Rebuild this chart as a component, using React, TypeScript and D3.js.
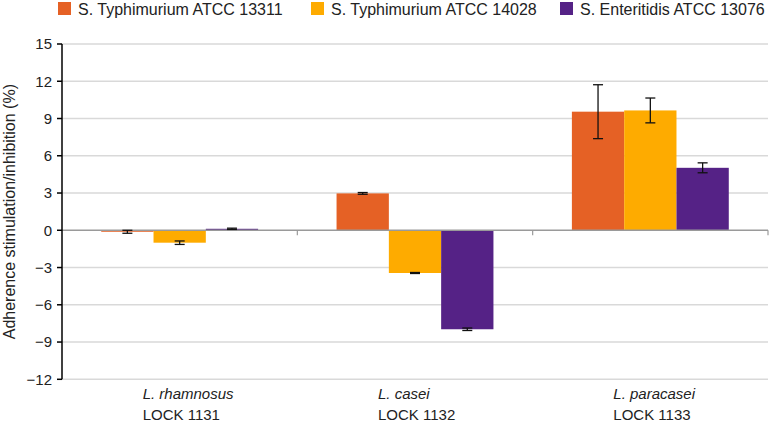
import React from "react";
import * as d3 from "d3";

const categories = ["L. rhamnosus|LOCK 1131", "L. casei|LOCK 1132", "L. paracasei|LOCK 1133"];
const seriesNames = ["S. Typhimurium ATCC 13311", "S. Typhimurium ATCC 14028", "S. Enteritidis ATCC 13076"];
const seriesColors = ["#E56125", "#FEAB00", "#552286"];
const values13311 = [-0.12, 2.97, 9.55];
const values14028 = [-1.0, -3.44, 9.65];
const values13076 = [0.12, -7.97, 5.03];
const errors13311 = [0.12, 0.07, 2.17];
const errors14028 = [0.14, 0.04, 1.0];
const errors13076 = [0.05, 0.1, 0.4];
const yTicks = [-12, -9, -6, -3, 0, 3, 6, 9, 12, 15];

const seriesValues = [values13311, values14028, values13076];
const seriesErrors = [errors13311, errors14028, errors13076];

const W = 770;
const H = 422;
const FONT = "'Liberation Sans', Arial, sans-serif";

export default function App() {
  const left = 62;
  const right = 768;
  const top = 44;
  const bottom = 379.3;

  const x0 = d3.scaleBand<string>().domain(categories).range([left, right]).padding(0);
  const x1 = d3
    .scaleBand<number>()
    .domain([0, 1, 2])
    .range([0, x0.bandwidth()])
    .paddingInner(0)
    .paddingOuter(0.75);
  const y = d3.scaleLinear().domain([-12, 15]).range([bottom, top]);
  const y0 = y(0);

  const fmt = (v: number) => (v < 0 ? "\u2212" + Math.abs(v) : String(v));

  return (
    <svg
      width={W}
      height={H}
      style={{ position: "absolute", left: 0, top: 0, background: "#fff" }}
      fontFamily={FONT}
    >
      {/* gridlines */}
      {yTicks
        .filter((t) => t !== 0)
        .map((t) => (
          <line key={"g" + t} x1={left} x2={right} y1={y(t)} y2={y(t)} stroke="#d9d9d9" strokeWidth={1.5} />
        ))}

      {/* bars */}
      {categories.map((c, ci) =>
        seriesValues.map((vals, si) => {
          const v = vals[ci];
          const bx = (x0(c) as number) + (x1(si) as number);
          const by = Math.min(y(v), y0);
          const bh = Math.abs(y(v) - y0);
          return (
            <rect
              key={`b${ci}-${si}`}
              x={bx}
              y={by}
              width={x1.bandwidth()}
              height={bh}
              fill={seriesColors[si]}
            />
          );
        })
      )}

      {/* x axis (zero line) */}
      <line x1={left} x2={right} y1={y0} y2={y0} stroke="#9a9a9a" strokeWidth={1.5} />
      {categories.map((c, ci) => (
        <line
          key={"xt" + ci}
          x1={(x0(c) as number) + x0.bandwidth()}
          x2={(x0(c) as number) + x0.bandwidth()}
          y1={y0}
          y2={y0 + 5}
          stroke="#9a9a9a"
          strokeWidth={1.2}
        />
      ))}

      {/* error bars */}
      {categories.map((c, ci) =>
        seriesValues.map((vals, si) => {
          const v = vals[ci];
          const e = seriesErrors[si][ci];
          const cx = (x0(c) as number) + (x1(si) as number) + x1.bandwidth() / 2;
          const yt = y(v + e);
          const yb = y(v - e);
          return (
            <g key={`e${ci}-${si}`} stroke="#111" strokeWidth={1.3}>
              <line x1={cx} x2={cx} y1={yt} y2={yb} />
              <line x1={cx - 5} x2={cx + 5} y1={yt} y2={yt} />
              <line x1={cx - 5} x2={cx + 5} y1={yb} y2={yb} />
            </g>
          );
        })
      )}

      {/* y axis */}
      <line x1={left} x2={left} y1={top} y2={bottom} stroke="#000" strokeWidth={1.5} />
      {yTicks.map((t) => (
        <g key={"yt" + t}>
          <line x1={left - 5} x2={left} y1={y(t)} y2={y(t)} stroke="#000" strokeWidth={1.5} />
          <text x={left - 10} y={y(t)} dy="0.36em" textAnchor="end" fontSize={15} fill="#222">
            {fmt(t)}
          </text>
        </g>
      ))}

      {/* y label */}
      <text
        transform={`translate(15, ${(top + bottom) / 2}) rotate(-90)`}
        textAnchor="middle"
        fontSize={16}
        fill="#222"
      >
        Adherence stimulation/inhibition (%)
      </text>

      {/* category labels */}
      {categories.map((c, ci) => {
        const [sp, lock] = c.split("|");
        const cx = (x0(c) as number) + x0.bandwidth() / 2;
        const lx = cx - 37;
        return (
          <g key={"cl" + ci} fontSize={15} fill="#222">
            <text x={lx} y={399} fontStyle="italic">
              {sp}
            </text>
            <text x={lx} y={420}>
              {lock}
            </text>
          </g>
        );
      })}

      {/* legend */}
      {seriesNames.map((n, i) => {
        const lx = [58, 311, 560][i];
        return (
          <g key={"lg" + i}>
            <rect x={lx} y={2} width={13} height={13} fill={seriesColors[i]} />
            <text x={lx + 20} y={15} fontSize={16} fill="#222">
              {n}
            </text>
          </g>
        );
      })}
    </svg>
  );
}
